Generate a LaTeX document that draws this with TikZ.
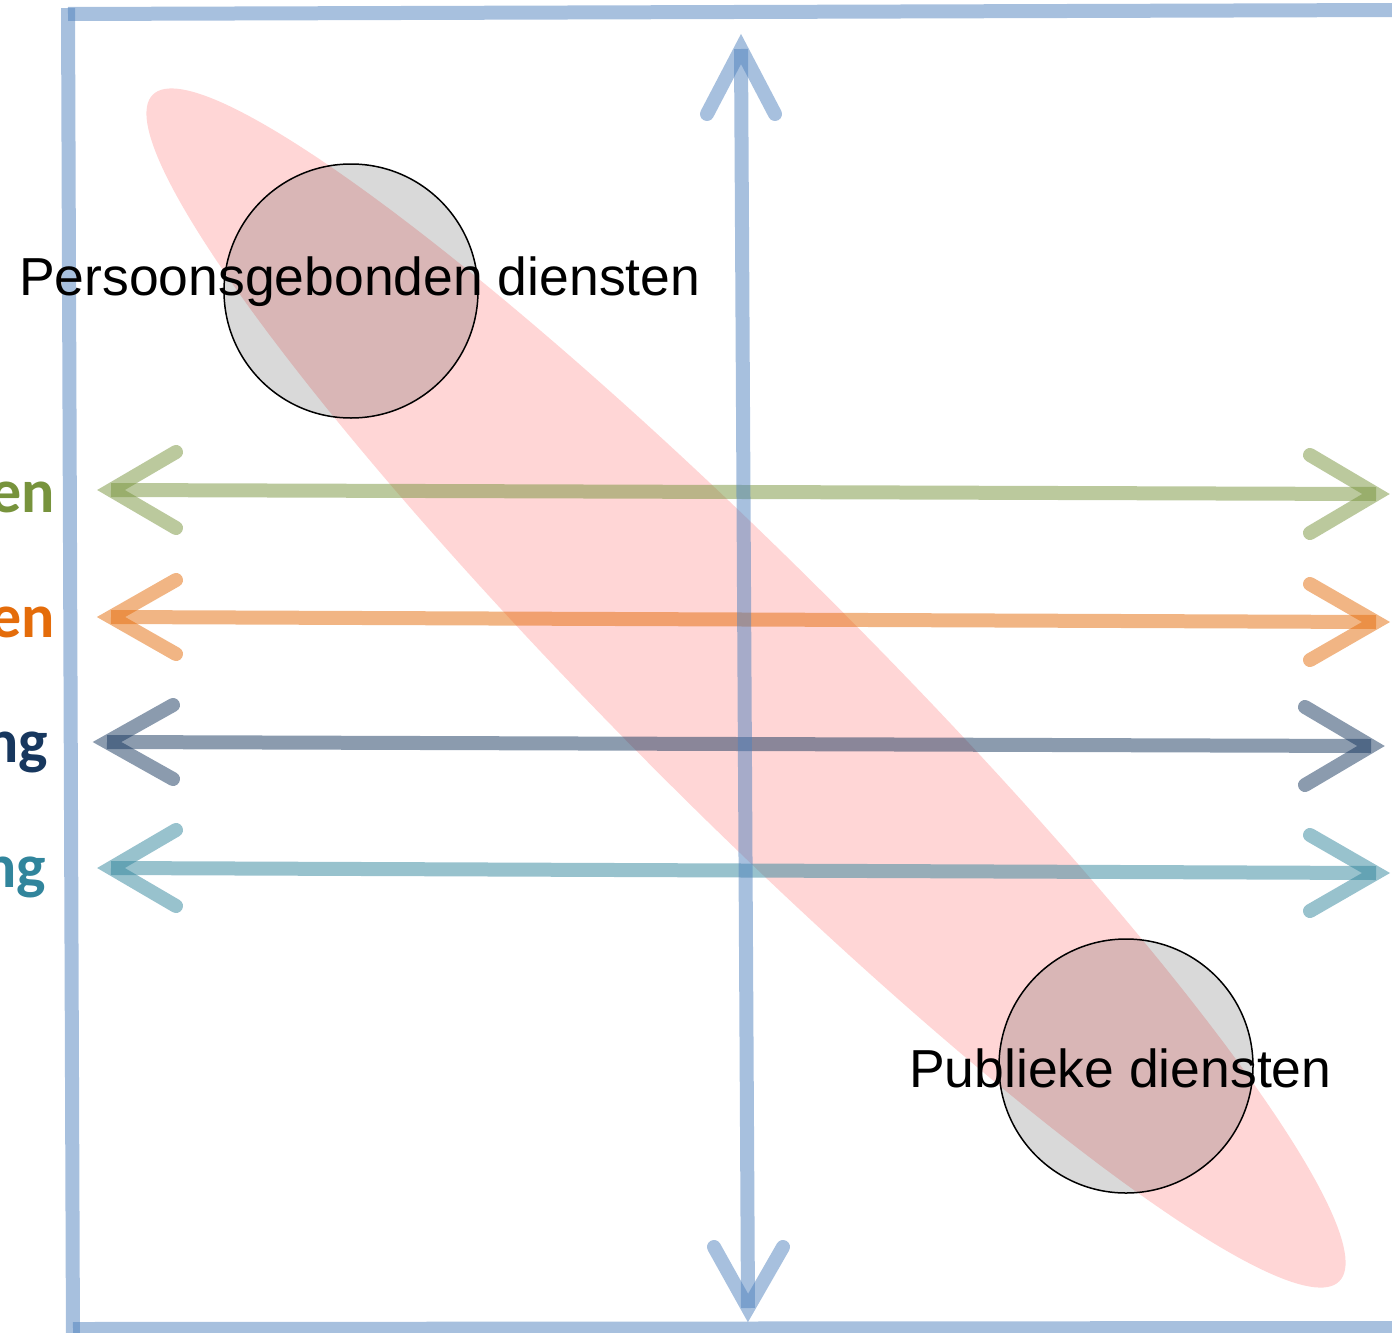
\documentclass[tikz,border=0pt]{standalone}
\usepackage{fontspec}
\setmainfont{Liberation Sans}
\newfontfamily\carlito{Carlito}
\definecolor{frameblue}{HTML}{4F81BD}
\definecolor{agreen}{HTML}{77933C}
\definecolor{aorange}{HTML}{E46C0A}
\definecolor{anavy}{HTML}{17375E}
\definecolor{ateal}{HTML}{31859C}
\definecolor{epink}{HTML}{FFD6D6}
\tikzset{
  shaft/.style={line width=14pt, draw opacity=0.5, line cap=butt},
  arrowhead/.style={line width=14pt, draw opacity=0.5, line cap=round, line join=miter, miter limit=10},
  frameline/.style={draw=frameblue, line width=14pt, draw opacity=0.5},
  disc/.style={circle, draw=black, line width=1.5pt, fill=black, fill opacity=0.15, draw opacity=1, minimum size=254pt, inner sep=0pt},
  biglabel/.style={font=\fontsize{53.5}{60}\selectfont, inner sep=0pt, anchor=base west},
  sidelabel/.style={font=\carlito\bfseries\fontsize{62}{68}\selectfont, inner sep=0pt, anchor=base east},
}
\begin{document}
\begin{tikzpicture}[x=1pt, y=-1pt]
\useasboundingbox (0,0) rectangle (1392,1333);

% pink ellipse
\begin{scope}[shift={(746,688)}, rotate=-45]
  \fill[epink] (0,0) ellipse [x radius=839pt, y radius=122pt];
\end{scope}

% discs
\node[disc] (c1) at (351,291) {};
\node[disc] (c2) at (1126,1066) {};

% coordinates for horizontal arrows
\foreach \n/\yl/\yr/\dl/\dr/\xl/\xr/\al/\ar in {
  g/490/494/38/39/111/1376/176/1310,
  o/617/622/37/38/111/1376/176/1310,
  n/742/746/37/39/107/1371/173/1305,
  t/868/873/38/38/111/1376/176/1310}{
  \coordinate (\n L) at (\xl,\yl);
  \coordinate (\n La) at (\al,\yl-\dl);
  \coordinate (\n Lb) at (\al,\yl+\dl);
  \coordinate (\n R) at (\xr,\yr);
  \coordinate (\n Ra) at (\ar,\yr-\dr);
  \coordinate (\n Rb) at (\ar,\yr+\dr);
}
\foreach \n/\c in {g/agreen, o/aorange, n/anavy, t/ateal}{
  \draw[shaft, draw=\c] (\n L) -- (\n R);
  \draw[arrowhead, draw=\c] (\n La) -- (\n L) -- (\n Lb);
  \draw[arrowhead, draw=\c] (\n Ra) -- (\n R) -- (\n Rb);
}

% vertical arrow
\coordinate (vT) at (741,49);
\coordinate (vTa) at (707,114);
\coordinate (vTb) at (775,114);
\coordinate (vB) at (748,1308);
\coordinate (vBa) at (714,1247);
\coordinate (vBb) at (783,1247);
\draw[shaft, draw=frameblue] (vT) -- (vB);
\draw[arrowhead, draw=frameblue] (vTa) -- (vT) -- (vTb);
\draw[arrowhead, draw=frameblue] (vBa) -- (vB) -- (vBb);

% frame
\coordinate (f1) at (68,14);
\coordinate (f2) at (1400,10);
\coordinate (f3) at (68,8);
\coordinate (f4) at (73,1345);
\coordinate (f5) at (73,1329);
\coordinate (f6) at (1400,1328);
\draw[frameline] (f1) -- (f2);
\draw[frameline] (f3) -- (f4);
\draw[frameline] (f5) -- (f6);

% labels
\node[biglabel] (lab1) at (19,295) {Persoonsgebonden diensten};
\node[biglabel] (lab2) at (909,1087) {Publieke diensten};

\node[sidelabel, text=agreen] (s1) at (55,512) {en};
\node[sidelabel, text=aorange] (s2) at (55,637) {en};
\node[sidelabel, text=anavy] (s3) at (48,762) {ng};
\node[sidelabel, text=ateal] (s4) at (46,887) {ng};
\end{tikzpicture}
\end{document}
